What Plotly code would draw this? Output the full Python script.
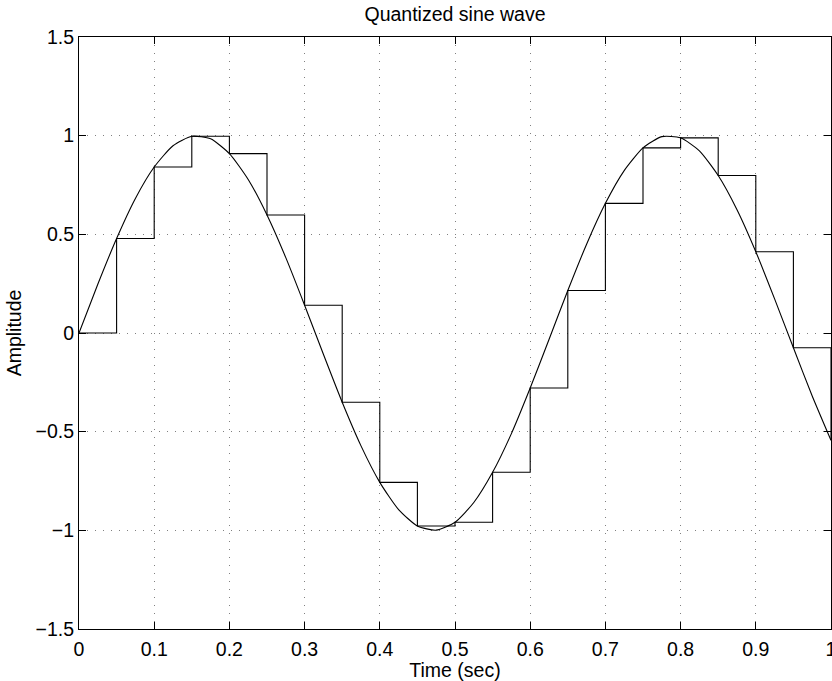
import plotly.graph_objects as go

# Smooth sine readings (time in sec, amplitude)
t_curve = [0.0, 0.025, 0.05, 0.075, 0.1, 0.125, 0.15, 0.175, 0.2, 0.225,
           0.25, 0.275, 0.3, 0.325, 0.35, 0.375, 0.4, 0.425, 0.45, 0.475,
           0.5, 0.525, 0.55, 0.575, 0.6, 0.625, 0.65, 0.675, 0.7, 0.725,
           0.75, 0.775, 0.8, 0.825, 0.85, 0.875, 0.9, 0.925, 0.95, 0.975, 1.0]
y_curve = [0.0, 0.247, 0.479, 0.682, 0.841, 0.949, 0.997, 0.984, 0.909, 0.778,
           0.598, 0.382, 0.141, -0.108, -0.351, -0.572, -0.757, -0.895, -0.978, -0.999,
           -0.959, -0.859, -0.706, -0.510, -0.279, -0.033, 0.215, 0.450, 0.657, 0.823,
           0.938, 0.995, 0.989, 0.923, 0.798, 0.625, 0.412, 0.173, -0.075, -0.319, -0.544]

# Quantized (sample-and-hold) readings
t_steps = [0.0, 0.05, 0.1, 0.15, 0.2, 0.25, 0.3, 0.35, 0.4, 0.45, 0.5,
           0.55, 0.6, 0.65, 0.7, 0.75, 0.8, 0.85, 0.9, 0.95, 1.0]
y_steps = [0.0, 0.479, 0.841, 0.997, 0.909, 0.598, 0.141, -0.351, -0.757, -0.978, -0.959,
           -0.706, -0.279, 0.215, 0.657, 0.938, 0.989, 0.798, 0.412, -0.075, -0.544]

x_ticks = [0, 0.1, 0.2, 0.3, 0.4, 0.5, 0.6, 0.7, 0.8, 0.9, 1]
x_tick_labels = ["0", "0.1", "0.2", "0.3", "0.4", "0.5", "0.6", "0.7", "0.8", "0.9", "1"]
y_ticks = [-1.5, -1, -0.5, 0, 0.5, 1, 1.5]
y_tick_labels = ["\u22121.5", "\u22121", "\u22120.5", "0", "0.5", "1", "1.5"]

FONT = "Liberation Sans, Arial, Helvetica, sans-serif"
FS = 19.5
W, H = 832, 681

fig = go.Figure()
fig.add_trace(go.Scatter(x=t_curve, y=y_curve, mode="lines",
                         line=dict(color="black", width=1.1, shape="spline", smoothing=0.6),
                         showlegend=False, hoverinfo="skip"))
fig.add_trace(go.Scatter(x=t_steps, y=y_steps, mode="lines",
                         line=dict(color="black", width=1.1, shape="hv"),
                         showlegend=False, hoverinfo="skip"))

axis_common = dict(showline=True, linecolor="black", linewidth=1, mirror="ticks",
                   ticks="inside", ticklen=7, tickcolor="black", automargin=False,
                   ticklabeloverflow="allow",
                   showgrid=True, gridcolor="#808080", griddash="1px,7px", gridwidth=1,
                   zeroline=False, tickfont=dict(family=FONT, size=FS, color="black"))

fig.update_layout(
    width=W, height=H,
    margin=dict(l=79, r=1, t=37, b=52),
    paper_bgcolor="white", plot_bgcolor="white",
    font=dict(family=FONT, color="black"),
    title=dict(text="Quantized sine wave", xref="paper", x=0.5, xanchor="center",
               yref="container", y=1 - 14 / H, yanchor="middle",
               font=dict(family=FONT, size=FS, color="black")),
    xaxis=dict(range=[0, 1], tickvals=x_ticks, ticktext=x_tick_labels, ticklabelstandoff=3,
               title=dict(text="Time (sec)", font=dict(family=FONT, size=FS), standoff=0),
               **axis_common),
    yaxis=dict(range=[-1.5, 1.5], tickvals=y_ticks, ticktext=y_tick_labels,
               title=dict(text="Amplitude", font=dict(family=FONT, size=FS), standoff=8),
               **axis_common),
)

# Remove the browser's default 8px body margin so the figure fills the window exactly.
fig.write_html("out.html", config={"displayModeBar": False},
               post_script="document.body.style.margin='0';document.body.style.overflow='hidden';")
